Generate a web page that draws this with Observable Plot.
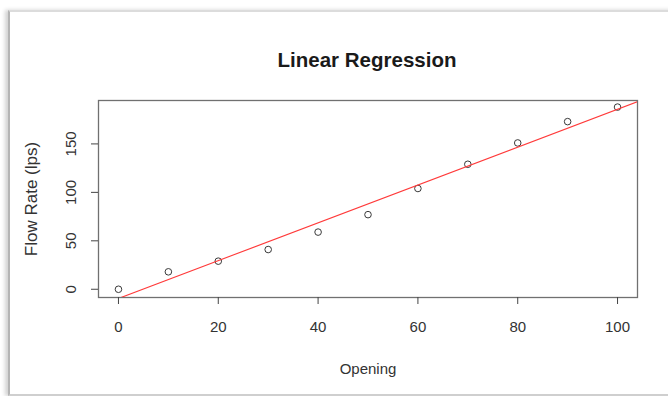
<!DOCTYPE html>
<html>
<head>
<meta charset="utf-8">
<script src="https://cdn.jsdelivr.net/npm/d3@7"></script>
<script src="https://cdn.jsdelivr.net/npm/@observablehq/plot@0.6"></script>
<style>
  html, body { margin: 0; padding: 0; background: #fff; }
  #wrap { position: relative; width: 668px; height: 396px; overflow: hidden; font-family: "Liberation Sans", Arial, sans-serif; }
  #win { position: absolute; left: 8px; top: 10px; width: 720px; height: 382px;
         border-left: 2px solid #b4b4b4; border-top: 2px solid #dcdcdc; border-bottom: 2px solid #cfcfcf;
         box-shadow: -3px 0 4px rgba(0,0,0,0.18); }
  #title { position: absolute; left: 0; top: 50px; width: 734px; text-align: center;
           font: bold 20.5px/20.5px "Liberation Sans", Arial, sans-serif; color: #1a1a1a; margin: 0; }
  #chart { position: absolute; left: 0; top: 80px; }
</style>
</head>
<body>
<div id="wrap">
  <div id="win"></div>
  <h1 id="title">Linear Regression</h1>
  <div id="chart"></div>
</div>
<script>
// Data
const opening = [0, 10, 20, 30, 40, 50, 60, 70, 80, 90, 100];
const flowRate = [0, 18, 29, 41, 59, 77, 104, 129, 151, 173, 188];
const xTicks = [0, 20, 40, 60, 80, 100];
const yTicks = [0, 50, 100, 150];
const xLabel = "Opening";
const yLabel = "Flow Rate (lps)";

const points = opening.map((x, i) => ({x, y: flowRate[i]}));

// least-squares fit (the red regression line)
const mx = d3.mean(opening), my = d3.mean(flowRate);
const slope = d3.sum(points, d => (d.x - mx) * (d.y - my)) / d3.sum(points, d => (d.x - mx) ** 2);
const intercept = my - slope * mx;

const xDomain = [-4, 104];
const yDomain = [-8.5, 194.8];
const fitLine = xDomain.map(x => ({x, y: intercept + slope * x}));

const chart = Plot.plot({
  width: 668,
  height: 316,
  marginLeft: 98,
  marginRight: 31,
  marginTop: 20,
  marginBottom: 99,
  style: {fontFamily: "'Liberation Sans', Arial, sans-serif", fontSize: "15px", color: "#333", background: "transparent"},
  x: {domain: xDomain, label: null},
  y: {domain: yDomain, label: null},
  marks: [
    Plot.frame({stroke: "#707070", strokeWidth: 1.3}),
    Plot.axisX({ticks: xTicks, tickSize: 7, tickPadding: 17, stroke: "#444", fill: "#333", fontSize: 15, label: null}),
    Plot.axisY({ticks: yTicks, tickSize: 7, tickPadding: 16, tickRotate: -90, stroke: "#444", fill: "#333", fontSize: 15, label: null}),
    Plot.dot(points, {x: "x", y: "y", r: 3.3, stroke: "#3a3a3a", strokeWidth: 1, fill: "none"}),
    Plot.line(fitLine, {x: "x", y: "y", stroke: "#ff3a3a", strokeWidth: 1.1, clip: true}),
    Plot.text([xLabel], {frameAnchor: "bottom", dy: 72, text: d => d, fontSize: 15, fill: "#333", lineAnchor: "middle", textAnchor: "middle"}),
    Plot.text([yLabel], {frameAnchor: "left", dx: -67, rotate: -90, text: d => d, fontSize: 17, fill: "#333", lineAnchor: "middle", textAnchor: "middle"})
  ]
});
document.getElementById("chart").appendChild(chart);
</script>
</body>
</html>
